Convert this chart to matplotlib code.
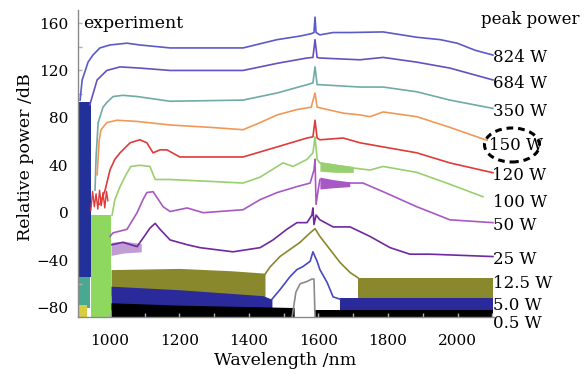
import matplotlib
matplotlib.use("Agg")
import matplotlib.pyplot as plt
from matplotlib.patches import Ellipse

# ---------------- data ----------------
p824_wl = [914, 920, 937, 951, 971, 1000, 1049, 1086, 1173, 1317, 1383, 1481, 1547, 1579, 1587, 1590, 1593, 1604, 1642, 1691, 1786, 1883, 1950, 1999, 2051, 2102]
p824_db = [95, 112, 127, 133, 139, 141.5, 143, 141.5, 139, 139, 139, 146, 149, 151, 152, 165, 152, 150, 152, 152, 152.5, 148, 146, 143, 137, 133]

p684_wl = [942, 963, 991, 1029, 1086, 1173, 1383, 1481, 1567, 1584, 1590, 1596, 1604, 1719, 1786, 1883, 1978, 2102]
p684_db = [91, 112, 120, 123, 122, 120, 120, 126, 130.5, 131, 146, 131, 130.5, 129, 131, 127, 122, 112]

p350_wl = [957, 960, 966, 980, 991, 1009, 1037, 1078, 1173, 1383, 1481, 1567, 1584, 1590, 1596, 1604, 1719, 1786, 1883, 1978, 2102]
p350_db = [19, 47, 76, 89, 93, 98, 99, 98, 94, 95, 101, 108, 109.5, 123, 108, 108, 106, 106, 102, 95, 88]

p150_wl = [963, 969, 974, 991, 1020, 1078, 1173, 1288, 1383, 1432, 1481, 1538, 1579, 1590, 1596, 1671, 1719, 1748, 1786, 1883, 1978, 2085]
p150_db = [32, 61, 70, 76, 78, 77, 74, 72, 70, 76, 82.5, 87, 89, 101, 89, 84, 82.5, 81, 85, 81, 72, 61]

p120_wl = [971, 986, 1000, 1014, 1029, 1058, 1086, 1106, 1124, 1144, 1164, 1201, 1317, 1383, 1481, 1567, 1584, 1590, 1596, 1604, 1671, 1719, 1786, 1883, 1978, 2102]
p120_db = [7, 19, 36, 45, 50.5, 59, 61.5, 59, 50.5, 53, 53, 47, 47, 47, 55.5, 63, 64, 78, 63, 61.5, 63, 59, 55.5, 50.5, 42, 33.7]

p100_wl = [1006, 1014, 1029, 1046, 1060, 1086, 1115, 1130, 1173, 1317, 1383, 1432, 1498, 1527, 1567, 1584, 1590, 1596, 1604, 1691, 1748, 1786, 1883, 1978, 2073]
p100_db = [-2, 11, 22, 32, 39, 40, 39, 28, 28, 26, 25, 30, 42, 39, 45, 50.5, 64, 45, 42, 38, 36, 39, 34, 24, 13.5]
b100_wl = [1604, 1650, 1700]
b100_hi = [43, 41, 39]
b100_lo = [35, 34, 34]

p50_wl = [1000, 1009, 1049, 1078, 1095, 1106, 1124, 1153, 1173, 1222, 1268, 1383, 1432, 1481, 1538, 1576, 1587, 1590, 1593, 1599, 1604, 1671, 1728, 1786, 1883, 1978, 2102]
p50_db = [-20, -17, -14, 0, 11, 17, 17.7, 5, 1, 4, 0, 2.5, 11, 17, 22, 25, 36, 45, 7, 19, 28, 25, 25, 17.7, 5, -6, -8.4]
b50_wl = [1604, 1640, 1690]
b50_hi = [30, 28, 26]
b50_lo = [20, 21, 22]

p25_wl = [1006, 1037, 1078, 1101, 1115, 1130, 1144, 1173, 1222, 1259, 1354, 1432, 1469, 1509, 1538, 1567, 1581, 1584, 1587, 1593, 1604, 1642, 1691, 1748, 1806, 1863, 1921, 2102]
p25_db = [-27, -25, -28.6, -19, -13, -9, -14, -23, -27, -29.5, -33, -29.5, -23, -14, -8.4, -8.4, -2, 4, -10, -2, -6, -12, -12, -20, -29.5, -35, -35, -37]
b25_wl = [1003, 1040, 1090]
b25_hi = [-25, -24, -26]
b25_lo = [-36, -34, -33]

p12_wl = [1446, 1460, 1489, 1518, 1547, 1576, 1590, 1604, 1633, 1662, 1691, 1714]
p12_db = [-52, -46, -37, -31, -25, -17, -13.5, -20, -31, -42, -50.5, -55]
b12a_wl = [1003, 1200, 1350, 1446]
b12a_hi = [-48, -47, -49, -51]
b12a_lo = [-70, -70, -72, -74]
b12b_wl = [1714, 2102]
b12b_hi = [-55, -55]
b12b_lo = [-74, -74]

p5_wl = [1466, 1489, 1518, 1538, 1555, 1576, 1584, 1596, 1604, 1625, 1642, 1662]
p5_db = [-73, -65, -54, -48, -45.5, -41, -33, -41, -48, -59, -71, -73]
b5a_wl = [1003, 1200, 1440, 1466]
b5a_hi = [-62, -65, -70, -73]
b5a_lo = [-82, -82, -82, -82]
b5b_wl = [1662, 2102]
b5b_hi = [-72, -72]
b5b_lo = [-84, -84]

p05_wl = [1524, 1535, 1547, 1567, 1581, 1587, 1590]
p05_db = [-88, -67, -60, -58, -56, -56, -88]
b05a_wl = [1003, 1200, 1530]
b05a_hi = [-76, -78, -80]
b05b_wl = [1590, 2102]
b05b_hi = [-82, -82]

# residual pump blocks on the left
blk_blue = (911, 946, -54, 93)
blk_green = (946, 1003, -88, -2)
blk_teal = (911, 942, -80, -54)
blk_yellow = (911, 935, -88, -78)
red_wl = [945, 950, 955, 960, 965, 970, 975, 980, 985, 990, 994]
red_db = [2, 18, 5, 16, 3, 19, 6, 17, 4, 18, 10]

labels = ["824 W", "684 W", "350 W", "150 W", "120 W", "100 W", "50 W", "25 W", "12.5 W", "5.0 W", "0.5 W"]
label_px = [(493, 57), (493, 84), (493, 111), (489, 145), (492, 175), (493, 203), (493, 226), (493, 259), (493, 284), (493, 305), (493, 323)]

xticks = [1000, 1200, 1400, 1600, 1800, 2000]
yticks = [-80, -40, 0, 40, 80, 120, 160]

# ---------------- styling ----------------
c824 = "#5a5ac8"
c684 = "#6650c0"
c350 = "#70aaa6"
c150 = "#f09858"
c120 = "#e03a3a"
c100 = "#98d070"
c50 = "#a858c4"
c25 = "#7028a0"
c12 = "#8a882c"
c5 = "#2a2a9a"
c05 = "#000000"

plt.rcParams['font.family'] = ['DejaVu Serif']
W, H = 586, 374
fig = plt.figure(figsize=(W / 100, H / 100), dpi=100)
ax = fig.add_axes([78 / W, 1 - 317 / H, 416 / W, 307 / H])
ax.set_xlim(908, 2105)
ax.set_ylim(-88, 171)

lw = 1.2
# blocks
def block(b, color, z=1.5):
    ax.fill_between([b[0], b[1]], [b[2], b[2]], [b[3], b[3]], color=color, lw=0, zorder=z)

block(blk_green, "#8fd860")
block(blk_teal, "#4aa890")
block(blk_yellow, "#d8cc40", 1.6)
block(blk_blue, "#22309a", 1.7)
ax.plot(red_wl, red_db, color=c120, lw=1.0, zorder=1.8)

# noise bands
ax.fill_between(b12a_wl, b12a_lo, b12a_hi, color=c12, lw=0, zorder=1.2)
ax.fill_between(b12b_wl, b12b_lo, b12b_hi, color=c12, lw=0, zorder=1.2)
ax.plot(p12_wl, p12_db, color=c12, lw=lw, zorder=1.2)
ax.fill_between(b5a_wl, b5a_lo, b5a_hi, color=c5, lw=0, zorder=1.3)
ax.fill_between(b5b_wl, b5b_lo, b5b_hi, color=c5, lw=0, zorder=1.3)
ax.plot(p5_wl, p5_db, color="#4848c0", lw=lw, zorder=1.3)
ax.fill_between(b05a_wl, [-88] * len(b05a_wl), b05a_hi, color=c05, lw=0, zorder=1.4)
ax.fill_between(b05b_wl, [-88] * len(b05b_wl), b05b_hi, color=c05, lw=0, zorder=1.4)
ax.plot(p05_wl, p05_db, color="#8a8a8a", lw=lw, zorder=1.4)

ax.fill_between(b100_wl, b100_lo, b100_hi, color=c100, lw=0, zorder=1.9)
ax.fill_between(b50_wl, b50_lo, b50_hi, color=c50, lw=0, zorder=1.9)
ax.fill_between(b25_wl, b25_lo, b25_hi, color=c25, lw=0, alpha=0.45, zorder=1.9)

for wl, db, c in [(p824_wl, p824_db, c824), (p684_wl, p684_db, c684), (p350_wl, p350_db, c350),
                  (p150_wl, p150_db, c150), (p120_wl, p120_db, c120), (p100_wl, p100_db, c100),
                  (p50_wl, p50_db, c50), (p25_wl, p25_db, c25)]:
    ax.plot(wl, db, color=c, lw=lw, zorder=2)

ax.set_xticks(xticks)
ax.set_xticks(range(1000, 2101, 100), minor=True)
ax.set_yticks(yticks)
ax.set_yticks(range(-80, 171, 20), minor=True)
ax.tick_params(axis='both', which='both', direction='in', color='#b0b0b0', length=3, width=1)
ax.tick_params(axis='x', which='major', pad=12, labelsize=11)
ax.tick_params(axis='y', which='major', pad=7, labelsize=11)
for s in ['top', 'right']:
    ax.spines[s].set_visible(False)
for s in ['left', 'bottom']:
    ax.spines[s].set_color('#8a8a8a')
    ax.spines[s].set_linewidth(1.0)

ax.set_xlabel("Wavelength /nm", fontsize=12.5)
ax.set_ylabel("Relative power /dB", fontsize=12.5)
ax.xaxis.set_label_coords((285 - 78) / 416, (317 - 352) / 307)
ax.yaxis.set_label_coords((34 - 78) / 416, (317 - 157) / 307)

ax.text(0.012, 0.955, "experiment", transform=ax.transAxes, fontsize=12.5, va='center', ha='left')
fig.text(530 / W, 1 - 20 / H, "peak power", fontsize=12, ha='center', va='center')
for lab, (px, py) in zip(labels, label_px):
    fig.text(px / W, 1 - py / H, lab, fontsize=12, ha='left', va='center')

ell = Ellipse((512 / W, 1 - 145 / H), 55 / W, 34 / H, transform=fig.transFigure,
              fill=False, ec='black', lw=2.2, ls=(0, (2.2, 1.6)))
fig.add_artist(ell)

fig.savefig("out.png", dpi=100)
